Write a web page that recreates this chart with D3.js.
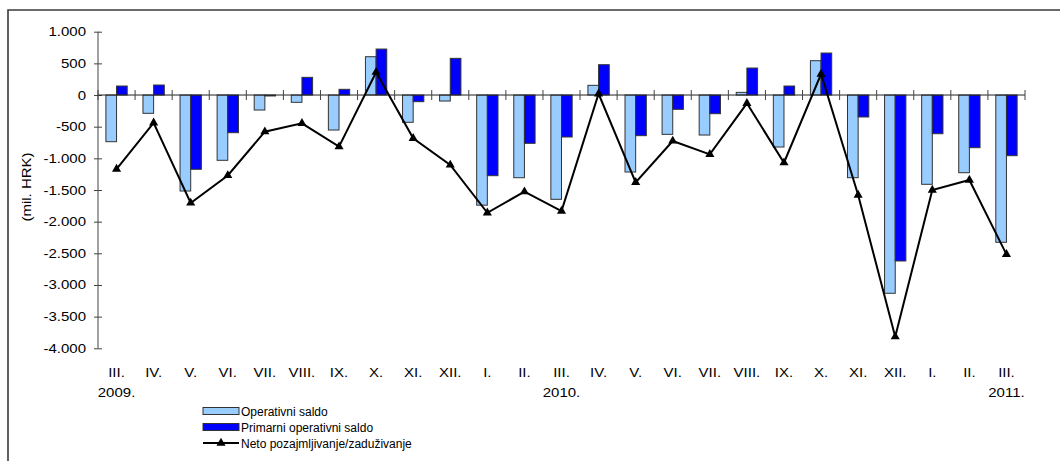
<!DOCTYPE html>
<meta charset="utf-8">
<title>Operativni saldo</title>
<script src="https://d3js.org/d3.v7.min.js"></script>
<style>
  body { margin: 0; background: #fff; }
  text { font-family: Arial, "Liberation Sans", sans-serif; fill: #000; }
</style>
<body>
<svg></svg>
<script>
// months, III. 2009 - III. 2011
var months = ["III.", "IV.", "V.", "VI.", "VII.", "VIII.", "IX.", "X.", "XI.", "XII.",
              "I.", "II.", "III.", "IV.", "V.", "VI.", "VII.", "VIII.", "IX.", "X.", "XI.", "XII.",
              "I.", "II.", "III."];
var years = [[0, "2009."], [12, "2010."], [24, "2011."]];

// mil. HRK
var operativni = [-737, -289, -1516, -1031, -237, -115, -553, 605, -431, -95,
                  -1740, -1306, -1647, 153, -1216, -621, -632, 42, -821, 542, -1306, -3131,
                  -1410, -1227, -2326];
var primarni = [142, 158, -1173, -595, -15, 279, 90, 726, -105, 579,
                -1274, -763, -663, 479, -642, -226, -295, 426, 142, 663, -347, -2621,
                -611, -832, -958];
var neto = [-1170, -440, -1705, -1270, -579, -447, -816, 360, -684, -1105,
            -1860, -1526, -1832, 20, -1379, -726, -937, -131, -1069, 332, -1579, -3816,
            -1500, -1342, -2516];

var yTicks = [1000, 500, 0, -500, -1000, -1500, -2000, -2500, -3000, -3500, -4000];
var legendNames = ["Operativni saldo", "Primarni operativni saldo", "Neto pozajmljivanje/zaduživanje"];

var width = 1060, height = 461;
var lightBlue = "#99ccff", darkBlue = "#0000ff";
var stretch = 1.2; // axis text is drawn wider than it is tall
var axisFont = "12.5px";

var svg = d3.select("svg").attr("width", width).attr("height", height);

// frame (only top and left visible)
svg.append("path")
    .attr("d", "M8," + (height + 2) + "V10H" + (width + 2))
    .attr("fill", "none")
    .attr("stroke", "#3a3a3a")
    .attr("stroke-width", 1.6);

var idx = d3.range(months.length);

var x = d3.scaleBand()
    .domain(idx)
    .range([98, 1025])
    .padding(0);

var x1 = d3.scaleBand()
    .domain([0, 1])
    .range([0, x.bandwidth()])
    .paddingInner(0)
    .paddingOuter(0.74);

var y = d3.scaleLinear()
    .domain([-4000, 1000])
    .range([348.3, 31.7]);

var fmt = function(v) {
  var s = d3.format(",")(v).replace(/,/g, ".");
  return s.replace("−", "-");
};

// y axis
var yAxis = svg.append("g")
    .attr("transform", "translate(98,0)")
    .call(d3.axisLeft(y).tickValues(yTicks).tickFormat(fmt).tickSizeOuter(0));
yAxis.select(".domain").attr("stroke", "#444").attr("d", "M0," + y(1000) + "V" + y(-4000));
yAxis.selectAll(".tick line").attr("x1", -4).attr("x2", 4).attr("stroke", "#444");
yAxis.selectAll(".tick text")
    .attr("x", -12 / stretch)
    .attr("transform", "scale(" + stretch + ",1)")
    .style("font-size", axisFont)
    .style("font-family", "Arial, 'Liberation Sans', sans-serif")
    .attr("fill", "#000");

svg.append("text")
    .attr("transform", "translate(31,187) rotate(-90) scale(" + stretch + ",1)")
    .attr("text-anchor", "middle")
    .style("font-size", axisFont)
    .text("(mil. HRK)");

// bars
var bars = svg.append("g");
[operativni, primarni].forEach(function(series, s) {
  bars.selectAll(".bar" + s)
    .data(series)
    .enter().append("rect")
      .attr("x", function(d, i) { return x(i) + x1(s); })
      .attr("width", x1.bandwidth())
      .attr("y", function(d) { return y(Math.max(0, d)); })
      .attr("height", function(d) { return Math.abs(y(d) - y(0)); })
      .attr("fill", s === 0 ? lightBlue : darkBlue)
      .attr("stroke", "#333")
      .attr("stroke-width", 1);
});

// zero line with category ticks
var xAxis = svg.append("g");
xAxis.append("line")
    .attr("x1", x.range()[0]).attr("x2", x.range()[1])
    .attr("y1", y(0)).attr("y2", y(0))
    .attr("stroke", "#222");
xAxis.selectAll(".xtick")
    .data(idx.concat([months.length]))
    .enter().append("line")
      .attr("x1", function(i) { return x.range()[0] + i * x.step(); })
      .attr("x2", function(i) { return x.range()[0] + i * x.step(); })
      .attr("y1", y(0) - 5).attr("y2", y(0) + 5)
      .attr("stroke", "#444");

// line + markers
var cx = function(i) { return x(i) + x.bandwidth() / 2; };
svg.append("path")
    .datum(neto)
    .attr("fill", "none")
    .attr("stroke", "#000")
    .attr("stroke-width", 2)
    .attr("d", d3.line().x(function(d, i) { return cx(i); }).y(function(d) { return y(d); }));

var tri = d3.symbol().type(d3.symbolTriangle).size(36);
svg.selectAll(".marker")
    .data(neto)
    .enter().append("path")
      .attr("d", tri)
      .attr("transform", function(d, i) { return "translate(" + cx(i) + "," + y(d) + ")"; })
      .attr("fill", "#000");

// category labels
svg.selectAll(".month")
    .data(months)
    .enter().append("text")
      .attr("transform", function(d, i) { return "translate(" + cx(i) + ",377) scale(" + stretch + ",1)"; })
      .attr("text-anchor", "middle")
      .style("font-size", axisFont)
      .text(function(d) { return d; });

svg.selectAll(".year")
    .data(years)
    .enter().append("text")
      .attr("transform", function(d) { return "translate(" + cx(d[0]) + ",397) scale(" + stretch + ",1)"; })
      .attr("text-anchor", "middle")
      .style("font-size", axisFont)
      .text(function(d) { return d[1]; });

// legend
var legend = svg.append("g").attr("transform", "translate(203,411)");
legendNames.forEach(function(name, i) {
  var g = legend.append("g").attr("transform", "translate(0," + (i * 16) + ")");
  if (i < 2) {
    g.append("rect")
      .attr("x", 0).attr("y", -3.5)
      .attr("width", 36).attr("height", 7)
      .attr("fill", i === 0 ? lightBlue : darkBlue)
      .attr("stroke", "#333");
  } else {
    g.append("line")
      .attr("x1", 0).attr("x2", 36)
      .attr("stroke", "#000").attr("stroke-width", 2);
    g.append("path")
      .attr("d", tri)
      .attr("transform", "translate(18,0)")
      .attr("fill", "#000");
  }
  g.append("text")
    .attr("x", 38)
    .attr("y", 4.5)
    .style("font-size", "12px")
    .text(name);
});
</script>
</body>
